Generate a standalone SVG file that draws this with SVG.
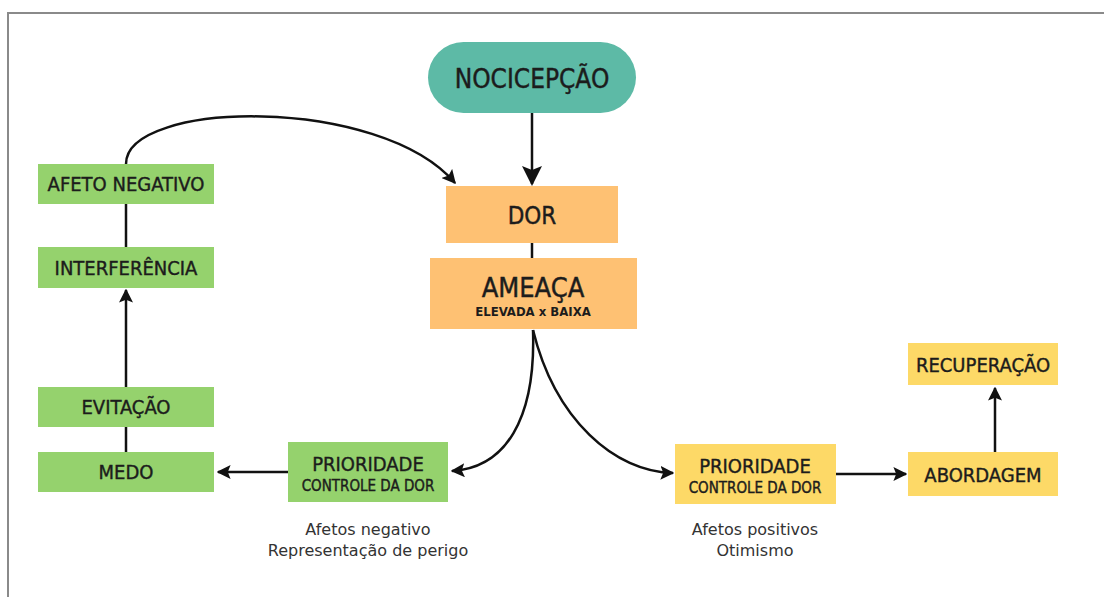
<svg xmlns="http://www.w3.org/2000/svg" width="1104" height="597" viewBox="0 0 1104 597">
<defs>
<marker id="ahs" viewBox="0 0 10 10" refX="9" refY="5" markerWidth="14" markerHeight="14" markerUnits="userSpaceOnUse" orient="auto"><path d="M0,0 L10,5 L0,10 L2,5 Z" fill="#111"/></marker>
<marker id="ahb" viewBox="0 0 10 10" refX="9" refY="5" markerWidth="20" markerHeight="20" markerUnits="userSpaceOnUse" orient="auto"><path d="M0,0 L10,5 L0,10 L2,5 Z" fill="#111"/></marker>
</defs>
<style>
text{font-family:"DejaVu Sans Condensed","DejaVu Sans","Liberation Sans",sans-serif;font-stretch:condensed;fill:#1c1c1c;stroke:#1c1c1c;stroke-width:0.4;text-anchor:middle}
.g{fill:#95d26d}.o{fill:#fec173}.y{fill:#fdd967}.t{fill:#5dbaa6}
.n{font-size:20px}
.s{font-size:15px}
.c{font-family:"DejaVu Sans","Liberation Sans",sans-serif;font-stretch:normal;font-size:16px;fill:#333;stroke:none}
.l{fill:none;stroke:#111;stroke-width:2.5}
</style>
<rect width="1104" height="597" fill="#fff"/>
<path d="M8,597 V13 H1104" fill="none" stroke="#8a8a8a" stroke-width="2"/>
<g id="connectors">
<path class="l" d="M532,113 V184" stroke-width="5" marker-end="url(#ahb)"/>
<path class="l" d="M532,243 V258" stroke-width="5"/>
<path class="l" d="M126,164 C126,100 380,95 455,183" marker-end="url(#ahs)"/>
<path class="l" d="M126,204 V247"/>
<path class="l" d="M126,387 V290" marker-end="url(#ahs)"/>
<path class="l" d="M126,452 V427"/>
<path class="l" d="M288,472 H218" marker-end="url(#ahs)"/>
<path class="l" d="M533,330 C536,420 505,468 452,471" marker-end="url(#ahs)"/>
<path class="l" d="M533,330 C555,420 615,472 673,473" marker-end="url(#ahs)"/>
<path class="l" d="M836,474 H906" marker-end="url(#ahs)"/>
<path class="l" d="M995,452 V388" marker-end="url(#ahs)"/>
</g>
<g id="nocicepcao"><rect class="t" x="428" y="42" width="208" height="71" rx="35.5"/><text x="532" y="88" style="font-size:26px">NOCICEPÇÃO</text></g>
<g id="dor"><rect class="o" x="446" y="186" width="172" height="57"/><text x="532" y="224" style="font-size:24px">DOR</text></g>
<g id="ameaca"><rect class="o" x="430" y="258" width="207" height="71"/><text x="533" y="297" style="font-size:27px">AMEAÇA</text><text x="533" y="316" style="font-size:13px;font-weight:bold;stroke:none">ELEVADA x BAIXA</text></g>
<g id="afeto-negativo"><rect class="g" x="38" y="164" width="176" height="40"/><text class="n" x="126" y="191">AFETO NEGATIVO</text></g>
<g id="interferencia"><rect class="g" x="38" y="247" width="176" height="41"/><text class="n" x="126" y="275">INTERFERÊNCIA</text></g>
<g id="evitacao"><rect class="g" x="38" y="387" width="176" height="40"/><text class="n" x="126" y="414">EVITAÇÃO</text></g>
<g id="medo"><rect class="g" x="38" y="452" width="176" height="40"/><text class="n" x="126" y="479">MEDO</text></g>
<g id="prioridade-neg"><rect class="g" x="288" y="442" width="160" height="60"/><text class="n" x="368" y="471">PRIORIDADE</text><text class="s" x="368" y="491">CONTROLE DA DOR</text></g>
<g id="prioridade-pos"><rect class="y" x="675" y="444" width="161" height="60"/><text class="n" x="755" y="473">PRIORIDADE</text><text class="s" x="755" y="493">CONTROLE DA DOR</text></g>
<g id="recuperacao"><rect class="y" x="908" y="343" width="150" height="42"/><text class="n" x="983" y="372">RECUPERAÇÃO</text></g>
<g id="abordagem"><rect class="y" x="908" y="452" width="150" height="44"/><text class="n" x="983" y="482">ABORDAGEM</text></g>
<g id="captions">
<text class="c" x="368" y="535">Afetos negativo</text>
<text class="c" x="368" y="556">Representação de perigo</text>
<text class="c" x="755" y="535">Afetos positivos</text>
<text class="c" x="755" y="556">Otimismo</text>
</g>
</svg>
